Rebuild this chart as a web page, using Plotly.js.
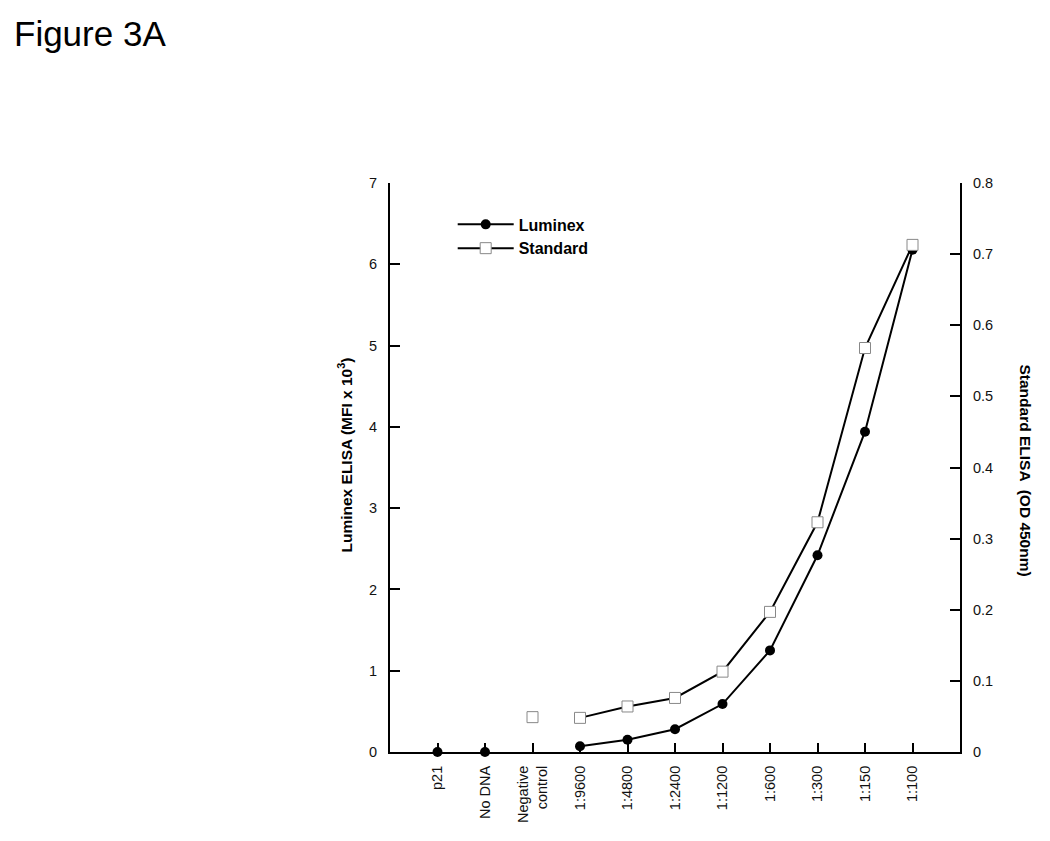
<!DOCTYPE html>
<html>
<head>
<meta charset="utf-8">
<script src="https://cdn.plot.ly/plotly-3.0.1.min.js"></script>
<style>html,body{margin:0;padding:0;background:#fff;}#chart{width:1050px;height:841px;}</style>
</head>
<body>
<div id="chart"></div>
<script>
const categories = ["p21", "No DNA", "Negative<br>control", "1:9600", "1:4800", "1:2400", "1:1200", "1:600", "1:300", "1:150", "1:100"];
const controlCategories = ["p21", "No DNA", "Negative<br>control"];
const dilutionCategories = ["1:9600", "1:4800", "1:2400", "1:1200", "1:600", "1:300", "1:150", "1:100"];
const luminexControl = [0, 0, null];
const luminexDilution = [0.07, 0.15, 0.28, 0.59, 1.25, 2.42, 3.94, 6.18];
const standardControl = [null, null, 0.049];
const standardDilution = [0.048, 0.064, 0.076, 0.113, 0.197, 0.323, 0.568, 0.713];
const leftTicks = [0, 1, 2, 3, 4, 5, 6, 7];
const rightTicks = [0, 0.1, 0.2, 0.3, 0.4, 0.5, 0.6, 0.7, 0.8];

const font = "Arial, 'Liberation Sans', sans-serif";
const circ = {symbol: "circle", size: 10, color: "#000"};
const sq = {symbol: "square", size: 11, color: "#fff", line: {color: "#888", width: 1}};

const traces = [
  {x: dilutionCategories, y: luminexDilution, name: "Luminex", type: "scatter", mode: "lines+markers",
   line: {color: "#000", width: 2}, marker: circ, cliponaxis: false},
  {x: dilutionCategories, y: standardDilution, name: "Standard", type: "scatter", mode: "lines+markers",
   yaxis: "y2", line: {color: "#000", width: 2}, marker: sq, cliponaxis: false},
  {x: controlCategories, y: luminexControl, name: "Luminex", type: "scatter", mode: "markers",
   marker: circ, showlegend: false, cliponaxis: false},
  {x: controlCategories, y: standardControl, name: "Standard", type: "scatter", mode: "markers",
   yaxis: "y2", marker: sq, showlegend: false, cliponaxis: false}
];

const layout = {
  width: 1050, height: 841,
  paper_bgcolor: "#fff", plot_bgcolor: "#fff",
  margin: {l: 390, r: 90, t: 183, b: 89},
  font: {family: font, color: "#111", size: 14},
  showlegend: true,
  legend: {x: 0.11, y: 0.957, xanchor: "left", yanchor: "top", bgcolor: "rgba(0,0,0,0)", itemwidth: 56,
           font: {family: font, size: 16, color: "#000", weight: "bold"}, tracegroupgap: 0},
  title: {text: "Figure 3A", x: 14 / 1050, xref: "container", xanchor: "left", y: 0.96, yref: "container",
          yanchor: "middle", font: {family: font, size: 35, color: "#000"}},
  xaxis: {type: "category", categoryarray: categories, categoryorder: "array", range: [-1, 11],
          showgrid: false, zeroline: false, showline: true, linecolor: "#000", linewidth: 2,
          ticks: "inside", ticklen: 9, tickwidth: 2, tickcolor: "#000", tickangle: -90,
          tickfont: {family: font, size: 14.5, color: "#111"}, ticklabelstandoff: 6, fixedrange: true},
  yaxis: {range: [0, 7], tickvals: leftTicks, showgrid: false, zeroline: false, showline: true,
          linecolor: "#000", linewidth: 2, ticks: "inside", ticklen: 10, tickwidth: 2, tickcolor: "#000",
          tickfont: {family: font, size: 14.5, color: "#111"}, ticklabelstandoff: 8},
  yaxis2: {range: [0, 0.8], tickvals: rightTicks, overlaying: "y", side: "right", showgrid: false, zeroline: false,
           showline: true, linecolor: "#000", linewidth: 2, ticks: "inside", ticklen: 10, tickwidth: 2, tickcolor: "#000",
           tickfont: {family: font, size: 14.5, color: "#111"}, ticklabelstandoff: 8},
  annotations: [
    {text: "<b>Luminex ELISA (MFI x 10<sup>3</sup>)</b>", xref: "paper", yref: "paper", x: 0, xshift: -45, y: 0.5, yshift: 12,
     xanchor: "center", yanchor: "middle", textangle: -90, showarrow: false, font: {family: font, size: 15.5, color: "#000"}},
    {text: "<b>Standard ELISA  (OD 450nm)</b>", xref: "paper", yref: "paper", x: 1, xshift: 65, y: 0.5, yshift: -3,
     xanchor: "center", yanchor: "middle", textangle: 90, showarrow: false, font: {family: font, size: 15.5, color: "#000"}}
  ]
};

Plotly.newPlot("chart", traces, layout, {displayModeBar: false, staticPlot: true});
</script>
</body>
</html>
